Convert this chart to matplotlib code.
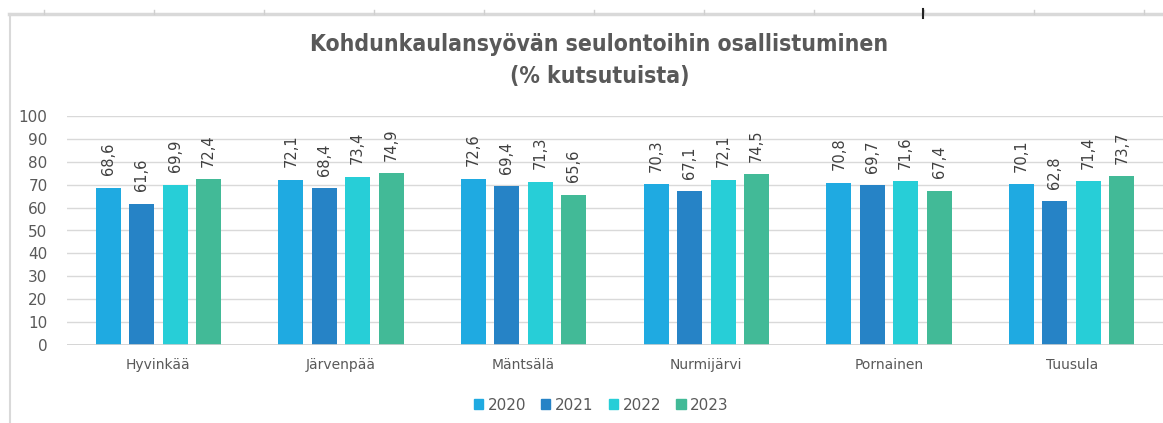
import numpy as np
import matplotlib
matplotlib.use("Agg")
from matplotlib import pyplot as plt
from matplotlib.lines import Line2D
from matplotlib.patches import Patch

# Data
municipalities = ["Hyvinkää", "Järvenpää", "Mäntsälä", "Nurmijärvi", "Pornainen", "Tuusula"]
years = ["2020", "2021", "2022", "2023"]
values_2020 = [68.6, 72.1, 72.6, 70.3, 70.8, 70.1]
values_2021 = [61.6, 68.4, 69.4, 67.1, 69.7, 62.8]
values_2022 = [69.9, 73.4, 71.3, 72.1, 71.6, 71.4]
values_2023 = [72.4, 74.9, 65.6, 74.5, 67.4, 73.7]
yticks = list(range(0, 101, 10))

series = [values_2020, values_2021, values_2022, values_2023]
colors = ["#1FAAE1", "#2683C6", "#27CED7", "#42BA97"]
text_color = "#595959"

W, H = 1163, 423
fig = plt.figure(figsize=(W / 100, H / 100), dpi=100)

# Spreadsheet frame: top border with column ticks and left border
fig.add_artist(Line2D([9 / W, 1], [1 - 14 / H] * 2, color="#d9d9d9", lw=2.5))
fig.add_artist(Line2D([10 / W] * 2, [0, 1 - 14 / H], color="#d9d9d9", lw=1.5))
for px in range(44, W, 110):
    fig.add_artist(Line2D([px / W] * 2, [1 - 10 / H, 1 - 14 / H], color="#cfcfcf", lw=1))
fig.add_artist(Line2D([923 / W] * 2, [1 - 9 / H, 1 - 18 / H], color="#222222", lw=1.5))

ax = fig.add_axes([67 / W, (H - 345) / H, (W - 67) / W, 229 / H])

x = np.arange(len(municipalities))
step = 0.183
width = 0.137
for i, (vals, col) in enumerate(zip(series, colors)):
    xs = x + (i - 1.5) * step
    bars = ax.bar(xs, vals, width, color=col, zorder=3)
    for b, v in zip(bars, vals):
        ax.annotate(f"{v:.1f}".replace(".", ","), (b.get_x() + b.get_width() / 2, v),
                    xytext=(0, 9), textcoords="offset points", rotation=90,
                    ha="center", va="bottom", fontsize=10.5, color="#404040")

ax.set_xlim(-0.5, len(municipalities) - 0.5)
ax.set_ylim(0, 100)
ax.set_yticks(yticks)
ax.set_xticks(x)
ax.set_xticklabels(municipalities)
ax.tick_params(axis="x", length=0, pad=9, labelsize=10, labelcolor=text_color)
ax.tick_params(axis="y", length=0, pad=14, labelsize=11, labelcolor=text_color)
ax.grid(axis="y", color="#d9d9d9", lw=1, zorder=0)
for s in ax.spines.values():
    s.set_visible(False)
ax.axhline(0, color="#d0d0d0", lw=1.2, zorder=4)

fig.text(0.5155, 1 - 45 / H, "Kohdunkaulansyövän seulontoihin osallistuminen",
         ha="center", va="center", fontsize=16.5, fontweight="bold",
         fontstretch="condensed", color=text_color)
fig.text(0.5155, 1 - 77 / H, "(% kutsutuista)",
         ha="center", va="center", fontsize=16.5, fontweight="bold",
         fontstretch="condensed", color=text_color)

handles = [Patch(color=c, label=y) for c, y in zip(colors, years)]
fig.legend(handles=handles, loc="center", bbox_to_anchor=(0.517, 18 / H), ncol=4,
           frameon=False, fontsize=11, handlelength=0.6, handleheight=0.6,
           handletextpad=0.3, columnspacing=1.0, labelcolor=text_color)

fig.savefig("out.png", dpi=100, facecolor="white")
